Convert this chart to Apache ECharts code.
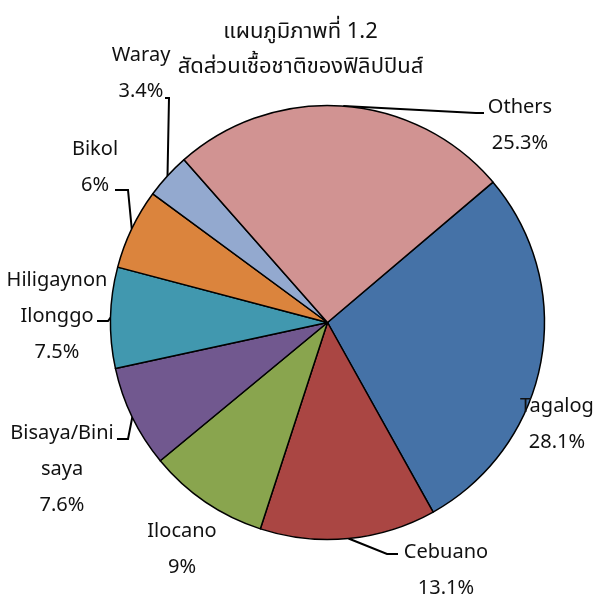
<!DOCTYPE html>
<html>
<head>
<meta charset="utf-8">
<script src="https://cdn.jsdelivr.net/npm/echarts@6/dist/echarts.min.js"></script>
<style>
  html, body { margin: 0; padding: 0; background: #fff; }
  #chart { width: 601px; height: 601px; }
</style>
</head>
<body>
<div id="chart"></div>
<script>
// Ethnic groups of the Philippines, share of population (%)
const groups = ['Tagalog', 'Cebuano', 'Ilocano', 'Bisaya/Binisaya', 'Hiligaynon Ilonggo', 'Bikol', 'Waray', 'Others'];
const groupLabels = ['Tagalog', 'Cebuano', 'Ilocano', 'Bisaya/Bini\nsaya', 'Hiligaynon\nIlonggo', 'Bikol', 'Waray', 'Others'];
const shares = [28.1, 13.1, 9, 7.6, 7.5, 6, 3.4, 25.3];
const sliceColors = ['#4572A7', '#AA4643', '#89A54E', '#71588F', '#4198AF', '#DB843D', '#93A9CF', '#D19392'];

const titleText = 'แผนภูมิภาพที่ 1.2\nสัดส่วนเชื้อชาติของฟิลิปปินส์';
const FONT = '"Noto Sans", "Noto Sans Thai", "DejaVu Sans", sans-serif';

// Label placement around the pie: block centre, plus leader-line elbows
// (the first leader point is the slice's own outer-arc anchor).
const labelPlacement = [
  { x: 557, y: 424, line: null },                         // Tagalog
  { x: 446, y: 570, line: [[387, 554], [398, 554]] },     // Cebuano
  { x: 182, y: 549, line: null },                         // Ilocano
  { x: 62,  y: 469, line: [[128, 439], [117, 439]] },     // Bisaya/Binisaya
  { x: 57,  y: 316, line: [[108, 321], [97, 321]] },      // Hiligaynon
  { x: 95,  y: 167, line: [[128, 190], [115, 190]] },     // Bikol
  { x: 141, y: 73,  line: [[169, 98], [165, 98]] },       // Waray
  { x: 520, y: 125, line: [[476, 113], [484, 113]] }      // Others
];

const chart = echarts.init(document.getElementById('chart'), null, { renderer: 'canvas' });

const data = groups.map((g, i) => ({
  name: groupLabels[i],
  value: shares[i],
  itemStyle: { color: sliceColors[i] },
  labelLine: { show: labelPlacement[i].line !== null }
}));

chart.setOption({
  backgroundColor: '#ffffff',
  animation: false,
  title: {
    text: titleText,
    left: 'center',
    top: 9,
    textStyle: {
      fontFamily: FONT,
      fontSize: 22,
      fontWeight: 'normal',
      color: '#111',
      lineHeight: 35
    }
  },
  series: [{
    type: 'pie',
    center: [327.5, 322.5],
    radius: 217,
    startAngle: 40.3,
    clockwise: true,
    avoidLabelOverlap: false,
    data: data,
    itemStyle: { borderColor: '#000', borderWidth: 1.5 },
    emphasis: { disabled: true },
    label: {
      show: true,
      position: 'outside',
      formatter: '{b}\n{c}%',
      fontFamily: FONT,
      fontSize: 20,
      color: '#111',
      lineHeight: 36,
      align: 'center'
    },
    labelLine: {
      show: true,
      length: 10,
      length2: 10,
      lineStyle: { color: '#000', width: 2 }
    },
    labelLayout: function (params) {
      const p = labelPlacement[params.dataIndex];
      const out = { x: p.x, y: p.y, align: 'center', verticalAlign: 'middle' };
      if (p.line && params.labelLinePoints && params.labelLinePoints.length) {
        out.labelLinePoints = [params.labelLinePoints[0]].concat(p.line);
      }
      return out;
    }
  }]
});
</script>
</body>
</html>
